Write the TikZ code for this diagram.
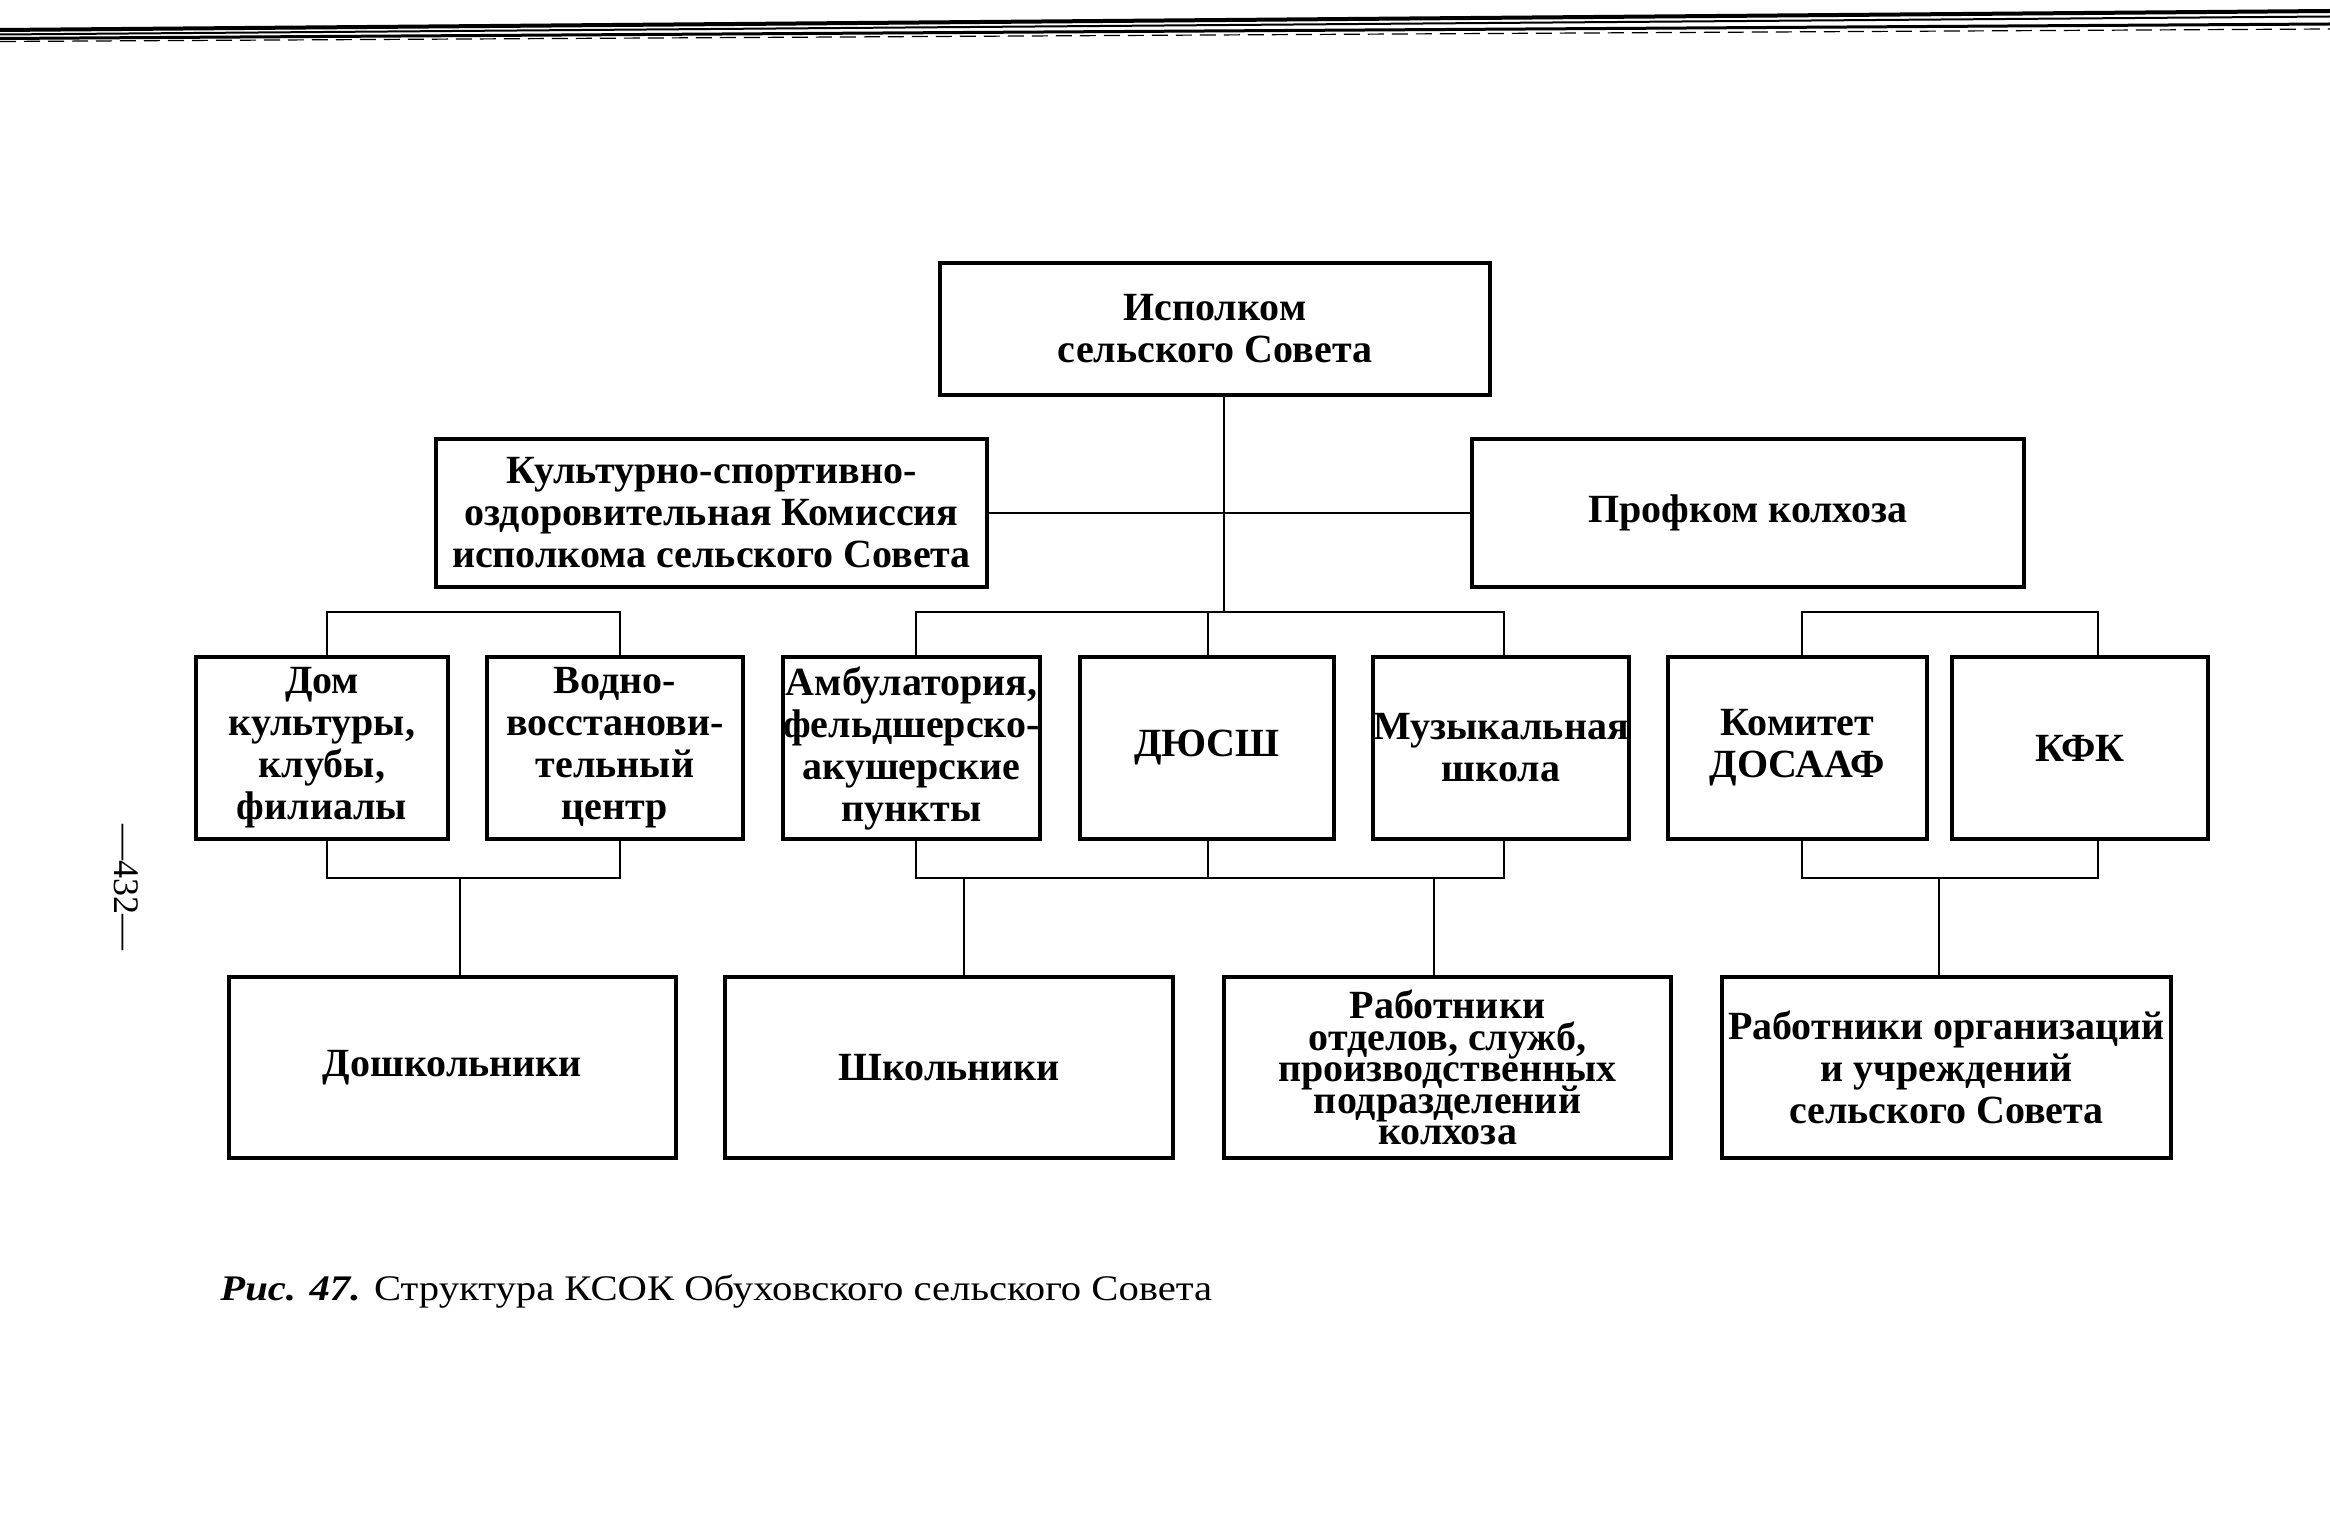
\documentclass[tikz,border=0pt]{standalone}
\usepackage{fontspec}
\setmainfont{Liberation Serif}
\newfontfamily\capfont[FakeStretch=1.13]{Liberation Serif}
\newcommand{\tightlines}{\lineskiplimit=-50pt\relax\lineskip=0pt\relax}
\begin{document}
\begin{tikzpicture}[x=0.5pt,y=-0.5pt,
  box/.style={draw, line width=2pt, inner sep=0pt, align=center, font=\bfseries\fontsize{20}{21}\selectfont},
  tightbox/.style={box, font={\bfseries\fontsize{20}{15.8}\selectfont\tightlines}},
  conn/.style={line width=1.3pt},
  rowtwo/.style={box, minimum height=91pt},
  rowthree/.style={box, minimum height=90.5pt}]
\useasboundingbox (0,0) rectangle (2330,1524);

% header rules (scanned page top)
\draw[line width=2pt] (0,30) -- (2330,11);
\draw[line width=1pt] (0,34.5) -- (2330,16.5);
\draw[line width=1.5pt] (0,38.5) -- (2330,24);
\draw[line width=0.6pt, dash pattern=on 8pt off 4pt] (0,41.5) -- (2330,29);

% top level
\node[box, minimum width=275pt, minimum height=66pt] (isp) at (1215,329) {Исполком\\сельского Совета};
\node[box, minimum width=275.5pt, minimum height=74pt] (kom) at (711.5,513) {Культурно-спортивно-\\оздоровительная Комиссия\\исполкома сельского Совета};
\node[box, minimum width=276pt, minimum height=74pt] (prof) at (1748,513) {Профком колхоза};

% second row
\node[rowtwo, minimum width=126pt] (dom) at (322,748) {Дом\\культуры,\\клубы,\\филиалы};
\node[rowtwo, minimum width=128pt] (vod) at (615,748) {Водно-\\восстанови-\\тельный\\центр};
\node[rowtwo, minimum width=127.5pt] (amb) at (911.5,748) {Амбулатория,\\фельдшерско-\\акушерские\\пункты};
\node[rowtwo, minimum width=127pt] (dus) at (1207,748) {ДЮСШ};
\node[rowtwo, minimum width=128pt] (muz) at (1501,748) {Музыкальная\\школа};
\node[rowtwo, minimum width=129.5pt] (komt) at (1797.5,748) {Комитет\\ДОСААФ};
\node[rowtwo, minimum width=128pt] (kfk) at (2080,748) {КФК};

% third row
\node[rowthree, minimum width=223.5pt] (dosh) at (452.5,1067.5) {Дошкольники};
\node[rowthree, minimum width=224pt] (shk) at (949,1067.5) {Школьники};
\node[tightbox, minimum width=223.5pt, minimum height=90.5pt] (rab1) at (1447.5,1067.5) {Работники\\отделов, служб,\\производственных\\подразделений\\колхоза};
\node[rowthree, minimum width=224.5pt] (rab2) at (1946.5,1067.5) {Работники организаций\\и учреждений\\сельского Совета};

% connectors, upper level
\coordinate (trunkB) at (1224,612);
\draw[conn] (isp.south -| trunkB) -- (trunkB);
\draw[conn] (kom.east) -- (prof.west);

\coordinate (lA) at (327,612);
\coordinate (lB) at (620,612);
\draw[conn] (dom.north -| lA) -- (lA) -- (lB) -- (vod.north -| lB);

\coordinate (mA) at (916,612);
\coordinate (mB) at (1208,612);
\coordinate (mC) at (1504,612);
\draw[conn] (amb.north -| mA) -- (mA) -- (mC) -- (muz.north -| mC);
\draw[conn] (dus.north -| mB) -- (mB);

\coordinate (rA) at (1802,612);
\coordinate (rB) at (2098,612);
\draw[conn] (komt.north -| rA) -- (rA) -- (rB) -- (kfk.north -| rB);

% connectors, lower level
\coordinate (lAb) at (327,878);
\coordinate (lBb) at (620,878);
\coordinate (lCb) at (460,878);
\draw[conn] (dom.south -| lAb) -- (lAb) -- (lBb) -- (vod.south -| lBb);
\draw[conn] (lCb) -- (dosh.north -| lCb);

\coordinate (mAb) at (916,878);
\coordinate (mBb) at (1208,878);
\coordinate (mCb) at (1504,878);
\coordinate (mDb) at (964,878);
\coordinate (mEb) at (1434,878);
\draw[conn] (amb.south -| mAb) -- (mAb) -- (mCb) -- (muz.south -| mCb);
\draw[conn] (dus.south -| mBb) -- (mBb);
\draw[conn] (mDb) -- (shk.north -| mDb);
\draw[conn] (mEb) -- (rab1.north -| mEb);

\coordinate (rAb) at (1802,878);
\coordinate (rBb) at (2098,878);
\coordinate (rCb) at (1939,878);
\draw[conn] (komt.south -| rAb) -- (rAb) -- (rBb) -- (kfk.south -| rBb);
\draw[conn] (rCb) -- (rab2.north -| rCb);

% caption and page number
\node[anchor=base west, inner sep=0pt, font=\capfont\fontsize{18}{20}\selectfont] (cap) at (220,1300) {\textbf{\textit{Рис. 47.}} Структура КСОК Обуховского сельского Совета};
\node[rotate=-90, inner sep=0pt, font=\fontsize{18}{20}\selectfont] (pn) at (126,887) {—432—};
\end{tikzpicture}
\end{document}
